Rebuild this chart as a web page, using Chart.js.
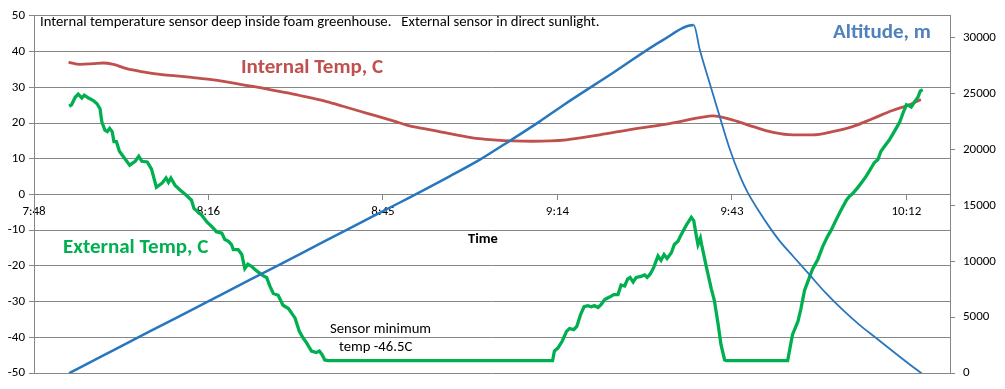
<!DOCTYPE html>
<html>
<head>
<meta charset="utf-8">
<script src="https://cdn.jsdelivr.net/npm/chart.js@4.4.1/dist/chart.umd.min.js"></script>
<style>
  html, body { margin: 0; padding: 0; background: #ffffff; }
  #wrap { width: 1005px; height: 389px; position: relative; }
</style>
</head>
<body>
<div id="wrap"><canvas id="c"></canvas></div>
<script>
// ---- Data (time in minutes after midnight) ----
const xTickMinutes = [468, 496.8, 525.6, 554.4, 583.2, 612];
const xTickLabels = ['7:48', '8:16', '8:45', '9:14', '9:43', '10:12'];
const altTickValues = [0, 5000, 10000, 15000, 20000, 25000, 30000];

const altTimes = [473.8, 478.9, 487.1, 495.4, 503.6, 511.9, 520.1, 528.4, 536.6, 541.6,
  546.5, 551.5, 555.3, 563.6, 571.8, 576.9,
  577.9, 579.5, 581.2, 582.8, 584.5, 585.8, 587.8, 589.4, 591.1, 593.3,
  596.0, 598.8, 601.5, 604.3, 607.0, 609.7, 612.5, 614.5];
const altValues = [0, 1430, 3730, 6030, 8330, 10640, 12940, 15250, 17590, 19080,
  20750, 22500, 23920, 26840, 29760, 31110,
  28890, 25970, 22900, 20100, 17650, 16150, 14350, 13050, 11800, 10450,
  8800, 7100, 5650, 4300, 3150, 1980, 800, 0];
const burstTime = 576.9;

const intTimes = [473.7, 475.6, 477.8, 479.4, 481.1, 483.3, 486.0, 488.8, 491.5, 494.3,
  497.0, 499.8, 502.5, 505.3, 508.0, 510.8, 513.5, 516.3, 519.0, 521.8,
  524.5, 527.3, 530.0, 532.8, 535.5, 538.3, 541.0, 543.8, 547.0, 550.3,
  555.9, 561.4, 566.9, 572.4, 577.9, 580.1, 583.4, 586.7, 590.0, 593.3,
  596.6, 599.8, 603.1, 606.4, 609.7, 612.5, 614.4];
const intTemps = [37.0, 36.4, 36.6, 36.8, 36.4, 35.2, 34.3, 33.6, 33.2, 32.7,
  32.2, 31.5, 30.7, 29.9, 29.0, 28.1, 27.1, 26.0, 24.7, 23.3,
  22.0, 20.6, 19.2, 18.3, 17.4, 16.5, 15.7, 15.3, 15.0, 14.9,
  15.3, 16.7, 18.3, 19.7, 21.5, 22.0, 20.8, 19.0, 17.4, 16.7,
  16.7, 17.6, 19.0, 21.2, 23.5, 25.1, 26.6];

const extTimes = [
  473.8, 474.2, 474.8, 475.3, 475.9, 476.3, 477.0, 477.8, 478.4, 478.9,
  479.2, 479.7, 480.1, 480.5, 480.9, 481.2, 481.6, 482.1, 482.7, 483.8,
  484.7, 485.3, 485.8, 486.7, 487.4, 488.2, 489.1, 489.8, 490.2, 490.6,
  491.3, 492.2, 493.2, 494.0, 494.4,
  495.7, 496.5, 497.6, 498.1, 499.0, 499.5, 500.1, 500.6, 500.9, 501.7,
  502.3, 502.8, 503.3, 503.9, 504.7, 505.8, 506.4, 506.9, 507.5, 508.3,
  509.1, 510.0, 511.1, 511.8, 512.4, 513.0, 513.8, 514.6, 515.1, 515.5,
  516.0, 516.5,
  553.6, 553.9, 554.5, 555.2, 555.9, 556.4, 557.1, 557.6, 558.2, 558.8,
  559.4, 560.0, 560.5, 561.1, 561.6, 562.2, 563.0, 563.7, 564.4, 564.9,
  565.5, 566.0, 566.4, 566.9, 567.4, 568.2, 568.8, 569.2, 569.7, 570.3,
  571.0, 571.5, 572.0, 572.5, 573.2, 573.7, 574.3, 574.8, 575.7, 576.5,
  576.9, 577.3, 577.6, 578.0, 578.2, 579.0, 579.8, 580.3, 580.9, 581.4,
  582.0, 582.3,
  592.4, 593.2, 594.1, 594.6, 595.2, 595.7, 596.5, 597.4, 598.2, 599.0,
  599.6, 600.4, 601.2, 602.1, 602.6, 603.1, 604.0, 604.8, 605.4, 605.9,
  606.7, 607.3, 607.8, 608.4, 609.2, 610.0, 610.9, 611.4, 612.0, 612.4,
  612.8, 613.3, 613.9, 614.3, 614.7];
const extTemps = [
  24.7, 25.1, 27.2, 28.1, 27.0, 27.8, 27.0, 26.3, 25.4, 24.0,
  20.3, 18.0, 17.6, 18.5, 17.6, 14.8, 14.8, 12.1, 10.7, 8.2,
  9.3, 10.7, 9.3, 9.1, 7.1, 2.0, 3.1, 4.6, 3.4, 4.6,
  2.5, 1.1, -0.3, -1.6, -3.9,
  -5.8, -7.6, -9.4, -10.4, -10.8, -12.6, -13.1, -14.0, -15.4, -15.4,
  -16.8, -20.7, -19.5, -20.1, -21.3, -22.7, -23.2, -25.5, -27.7, -28.2,
  -31.0, -31.9, -34.6, -38.3, -40.1, -41.5, -43.8, -44.2, -43.8, -44.7,
  -46.3, -46.5,
  -46.5, -43.8, -42.9, -41.0, -38.3, -37.5, -37.8, -36.9, -33.7, -31.4,
  -31.1, -31.4, -31.1, -31.6, -30.8, -29.4, -28.7, -28.0, -28.0, -25.3,
  -25.6, -23.6, -23.2, -24.5, -23.2, -22.9, -22.5, -23.2, -22.3, -20.4,
  -17.2, -18.4, -16.8, -17.9, -16.3, -14.0, -13.1, -11.3, -8.5, -6.4,
  -7.3, -11.3, -14.0, -12.2, -14.0, -20.4, -26.4, -29.6, -36.0, -42.0,
  -46.3, -46.5,
  -46.5, -39.2, -35.5, -31.9, -26.8, -24.5, -20.9, -18.1, -14.5, -11.7,
  -9.9, -7.1, -4.4, -1.6, -0.5, 0.2, 2.0, 3.8, 5.2, 6.6,
  8.9, 9.8, 12.1, 13.5, 15.3, 17.6, 20.3, 22.6, 25.1, 24.9,
  24.5, 25.8, 27.2, 29.0, 29.3];

const pair = (xs, ys) => xs.map((x, i) => ({ x: x, y: ys[i] }));

const FONT = 'Carlito, Lato, "Open Sans", sans-serif';
Chart.defaults.font.family = FONT;
Chart.defaults.color = '#000000';

const textPlugin = {
  id: 'texts',
  afterDraw(chart) {
    const ctx = chart.ctx;
    ctx.save();
    ctx.textBaseline = 'middle';
    ctx.textAlign = 'left';
    ctx.fillStyle = '#000000';
    ctx.font = '14.7px ' + FONT;
    ctx.fillText('Internal temperature sensor deep inside foam greenhouse.   External sensor in direct sunlight.', 40, 22);
    ctx.fillText('Sensor minimum', 330, 329);
    ctx.fillText('temp -46.5C', 339, 347);
    ctx.font = 'bold 14.5px ' + FONT;
    ctx.textAlign = 'center';
    ctx.fillText('Time', 483, 239);
    ctx.textAlign = 'left';
    ctx.font = 'bold 21px ' + FONT;
    ctx.fillStyle = '#C0504D';
    ctx.fillText('Internal Temp, C', 241, 68);
    ctx.fillStyle = '#4F81BD';
    ctx.fillText('Altitude, m', 833, 33);
    ctx.fillStyle = '#00B050';
    ctx.fillText('External Temp, C', 63, 248);
    ctx.restore();
  }
};

new Chart(document.getElementById('c'), {
  type: 'line',
  data: {
    datasets: [
      {
        label: 'Altitude, m',
        data: pair(altTimes, altValues),
        yAxisID: 'y2',
        borderColor: '#2877BE',
        borderWidth: 2.5,
        pointRadius: 0,
        cubicInterpolationMode: 'monotone',
        segment: { borderWidth: (c) => (c.p0.parsed.x >= burstTime ? 1.8 : 2.5) }
      },
      {
        label: 'External Temp, C',
        data: pair(extTimes, extTemps),
        yAxisID: 'y',
        borderColor: '#00B050',
        borderWidth: 3.3,
        pointRadius: 0,
        tension: 0
      },
      {
        label: 'Internal Temp, C',
        data: pair(intTimes, intTemps),
        yAxisID: 'y',
        borderColor: '#C0504D',
        borderWidth: 2.8,
        pointRadius: 0,
        cubicInterpolationMode: 'monotone'
      }
    ]
  },
  options: {
    responsive: true,
    maintainAspectRatio: false,
    animation: false,
    layout: { padding: { top: 12, bottom: 13, left: 0, right: 0 } },
    plugins: { legend: { display: false }, tooltip: { enabled: false } },
    scales: {
      x: {
        type: 'linear',
        position: { y: 0 },
        min: 468,
        max: 619.2,
        afterBuildTicks: (s) => { s.ticks = xTickMinutes.map(v => ({ value: v })); },
        ticks: {
          autoSkip: false,
          maxRotation: 0,
          padding: 4,
          font: { size: 13 },
          callback: (v) => { const i = xTickMinutes.indexOf(v); return i >= 0 ? xTickLabels[i] : ''; }
        },
        grid: { drawOnChartArea: false, drawTicks: true, tickLength: 5, color: '#868686' },
        border: { display: true, color: '#868686' }
      },
      y: {
        position: 'left',
        min: -50,
        max: 50,
        ticks: { stepSize: 10, padding: 4, font: { size: 13 } },
        grid: { color: '#868686', tickLength: 5, drawTicks: true },
        border: { display: true, color: '#868686' },
        afterFit: (s) => { s.width = 34; }
      },
      y2: {
        position: 'right',
        min: 0,
        max: 31930,
        afterBuildTicks: (s) => { s.ticks = altTickValues.map(v => ({ value: v })); },
        ticks: { padding: 8, font: { size: 13 }, callback: (v) => String(v) },
        grid: { drawOnChartArea: false, drawTicks: true, tickLength: 5, color: '#868686' },
        border: { display: true, color: '#868686' },
        afterFit: (s) => { s.width = 55; }
      }
    }
  },
  plugins: [textPlugin]
});
</script>
</body>
</html>
